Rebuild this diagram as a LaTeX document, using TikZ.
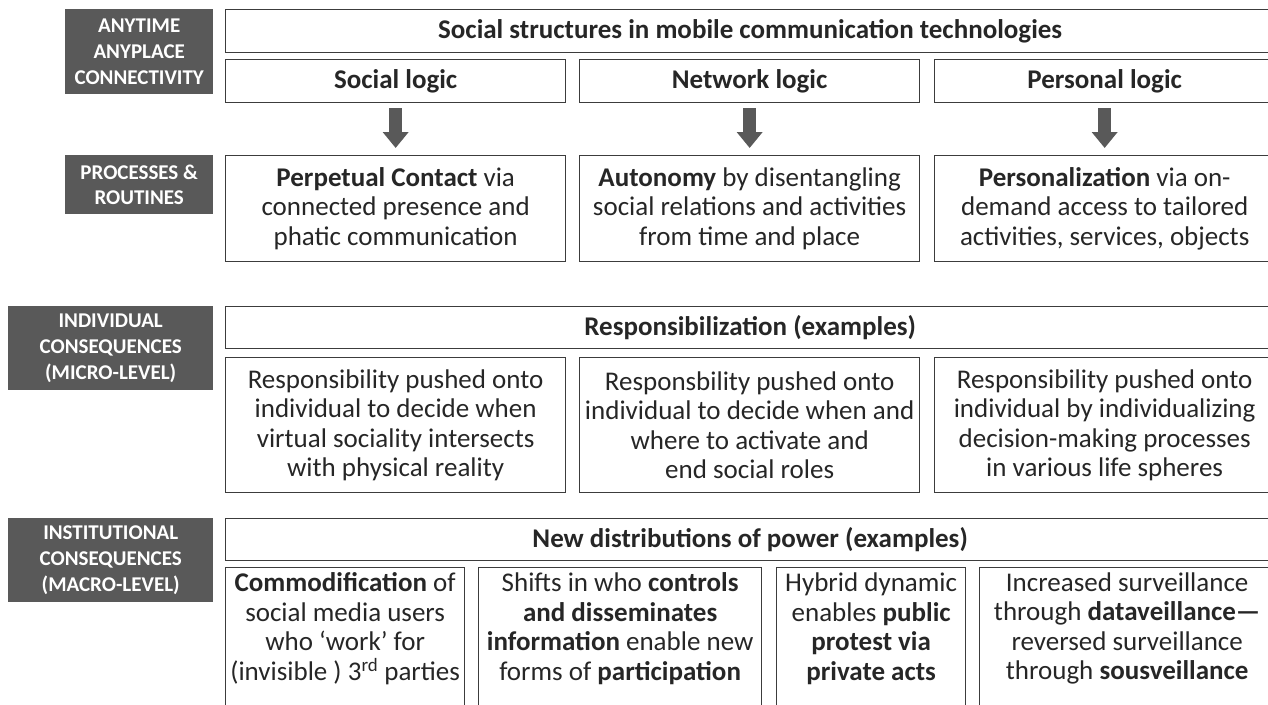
\documentclass[tikz,border=0pt]{standalone}
\usepackage{fontspec}
\setmainfont{Carlito}
\usetikzlibrary{arrows.meta}
\definecolor{labgray}{HTML}{595959}
\definecolor{linegray}{HTML}{3C3C3C}
\definecolor{txt}{HTML}{262626}
\tikzset{
  box/.style={draw=linegray, line width=1.3pt, anchor=north west, inner sep=0pt, align=center, text=txt,
    font=\fontsize{27}{29.5}\selectfont},
  titlebox/.style={box, font=\fontsize{27}{29.5}\selectfont\bfseries},
  boxtext/.style={align=center, text=txt, inner sep=0pt, font=\fontsize{27}{29.5}\selectfont},
  lab/.style={fill=labgray, anchor=north west, inner sep=0pt, align=center, text=white,
    font=\fontsize{21}{25.6}\selectfont\bfseries},
  blockarrow/.style={draw=labgray, line width=13pt, -{Triangle[width=25pt,length=16pt]}, shorten <=5pt, shorten >=7pt}
}
\begin{document}
\begin{tikzpicture}[x=1pt,y=-1pt]
\useasboundingbox (0,0) rectangle (1268,704);
% left labels
\node[lab, minimum width=148pt, minimum height=85pt] (l1) at (65,9) {ANYTIME\\ANYPLACE\\CONNECTIVITY};
\node[lab, minimum width=148pt, minimum height=59pt] (l2) at (65,155) {PROCESSES \&\\ROUTINES};
\node[lab, minimum width=205pt, minimum height=84pt] (l3) at (8,306) {INDIVIDUAL\\CONSEQUENCES\\(MICRO-LEVEL)};
\node[lab, minimum width=205pt, minimum height=84pt] (l4) at (8,518) {INSTITUTIONAL\\CONSEQUENCES\\(MACRO-LEVEL)};
% row 1
\node[titlebox, minimum width=1049pt, minimum height=43pt] (t1) at (225,9) {Social structures in mobile communication technologies};
\node[titlebox, minimum width=340pt, minimum height=43pt] (g1) at (225,59) {Social logic};
\node[titlebox, minimum width=340pt, minimum height=43pt] (g2) at (579,59) {Network logic};
\node[titlebox, minimum width=340pt, minimum height=43pt] (g3) at (934,59) {Personal logic};
% processes
\node[box, minimum width=340pt, minimum height=106pt] (p1) at (225,155) {\textbf{Perpetual Contact} via\\connected presence and\\phatic communication};
\node[box, minimum width=340pt, minimum height=106pt] (p2) at (579,155) {\textbf{Autonomy} by disentangling\\social relations and activities\\from time and place};
\node[box, minimum width=340pt, minimum height=106pt] (p3) at (934,155) {\textbf{Personalization} via on-\\demand access to tailored\\activities, services, objects};
\draw[blockarrow] (g1.south) -- (p1.north);
\draw[blockarrow] (g2.south) -- (p2.north);
\draw[blockarrow] (g3.south) -- (p3.north);
% responsibilization
\node[titlebox, minimum width=1049pt, minimum height=42pt] (t2) at (225,306) {Responsibilization (examples)};
\node[box, minimum width=340pt, minimum height=135pt] (r1) at (225,357) {Responsibility pushed onto\\individual to decide when\\virtual sociality intersects\\with physical reality};
\node[box, minimum width=340pt, minimum height=135pt] (r2) at (579,357) {Responsbility pushed onto\\individual to decide when and\\where to activate and\\end social roles};
\node[box, minimum width=340pt, minimum height=135pt] (r3) at (934,357) {Responsibility pushed onto\\individual by individualizing\\decision-making processes\\in various life spheres};
% power
\node[titlebox, minimum width=1049pt, minimum height=42pt] (t3) at (225,518) {New distributions of power (examples)};
\node[box, minimum width=239pt, minimum height=138pt, label={[boxtext, yshift=8pt]center:{\textbf{Commodification} of\\social media users\\who ‘work’ for\\(invisible ) 3\textsuperscript{rd} parties}}] (w1) at (225,567) {};
\node[box, minimum width=283pt, minimum height=138pt, label={[boxtext, yshift=8pt]center:{Shifts in who \textbf{controls}\\\textbf{and disseminates}\\\textbf{information} enable new\\forms of \textbf{participation}}}] (w2) at (478,567) {};
\node[box, minimum width=189pt, minimum height=138pt, label={[boxtext, yshift=8pt]center:{Hybrid dynamic\\enables \textbf{public}\\\textbf{protest via}\\\textbf{private acts}}}] (w3) at (776,567) {};
\node[box, minimum width=295pt, minimum height=138pt, label={[boxtext, yshift=8pt]center:{Increased surveillance\\through \textbf{dataveillance—}\\reversed surveillance\\through \textbf{sousveillance}}}] (w4) at (979,567) {};
\end{tikzpicture}
\end{document}
